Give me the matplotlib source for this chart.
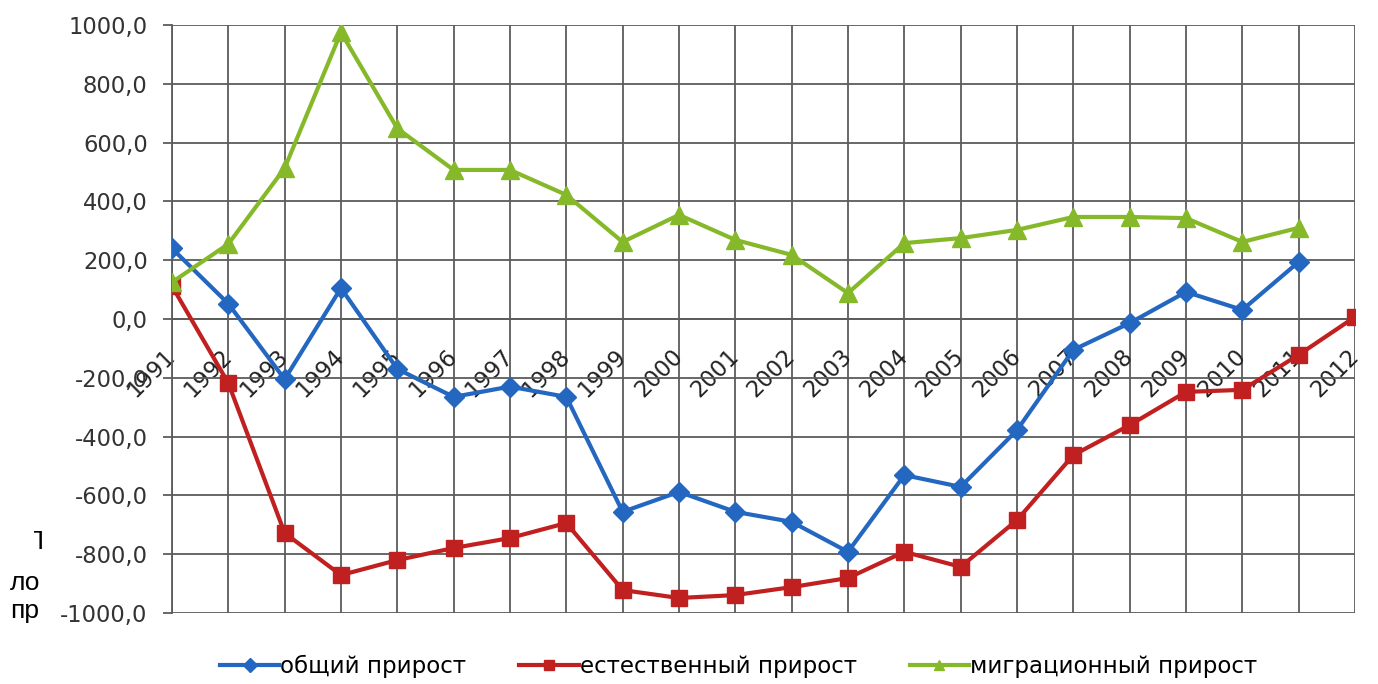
import matplotlib
matplotlib.use("Agg")
import matplotlib.pyplot as plt
from matplotlib.ticker import FuncFormatter
from matplotlib.transforms import Bbox

# data
years = [str(y) for y in range(1991, 2013)]

total = [240, 52, -205, 105, -170, -265, -230, -265, -656, -588, -656,
         -690, -792, -531, -571, -378, -105, -14, 92, 31, 194, None]
natural = [112, -218, -728, -871, -820, -779, -745, -694, -922, -949, -939,
           -912, -881, -792, -843, -684, -463, -361, -248, -241, -122, 7]
migration = [125, 255, 513, 975, 648, 507, 507, 422, 262, 354, 269,
             218, 88, 258, 275, 303, 347, 347, 343, 262, 310, None]

labels = ['общий прирост', 'естественный прирост', 'миграционный прирост']
colors = ['#2467c0', '#c0201f', '#86b92a']
grid_col = '#5c5c5c'

fig = plt.figure(figsize=(13.78, 6.84), dpi=100)
ax = fig.add_axes([0.1248, 0.1038, 0.9833 - 0.1248, 0.9635 - 0.1038])

x = list(range(len(years)))
def clean(vals):
    return [float('nan') if v is None else v for v in vals]

ax.plot(x, clean(total), color=colors[0], lw=3, marker='D', ms=10,
        label=labels[0], zorder=3)
ax.plot(x, clean(natural), color=colors[1], lw=3, marker='s', ms=12,
        label=labels[1], zorder=3)
ax.plot(x, clean(migration), color=colors[2], lw=3, marker='^', ms=13,
        label=labels[2], zorder=3)

ax.set_xlim(0, len(years) - 1)
ax.set_ylim(-1000, 1000)

ax.grid(True, color=grid_col, lw=1.3, zorder=0)
for s in ['top', 'right']:
    ax.spines[s].set_visible(False)
ax.spines['left'].set_color(grid_col)
ax.spines['left'].set_linewidth(1.3)
# category axis crosses at 0 (this resets the ticks, so set labels afterwards)
ax.spines['bottom'].set_position(('data', 0))
ax.spines['bottom'].set_color(grid_col)
ax.spines['bottom'].set_linewidth(1.3)

ax.set_yticks(range(-1000, 1001, 200))
ax.yaxis.set_major_formatter(FuncFormatter(lambda v, p: f'{v:.1f}'.replace('.', ',')))
ax.set_xticks(x)
ax.set_xticklabels(years)
plt.setp(ax.get_xticklabels(), rotation=45, ha='right', va='center',
         rotation_mode='anchor')

ax.tick_params(axis='x', length=0, pad=24, labelsize=16.3, labelcolor='#222222')
ax.tick_params(axis='y', length=6.5, width=1.3, color=grid_col, pad=11,
               labelsize=16.3, labelcolor='#333333')

leg = fig.legend(loc='center', bbox_to_anchor=(0.536, 0.026), ncol=3,
                 frameon=False, fontsize=16.5, handlelength=2.6,
                 columnspacing=2.3, handletextpad=0.05)
for h in leg.legend_handles:
    h.set_markersize(7)

# clipped fragments of surrounding page text
t = fig.text(0.018, 0.198, 'П', fontsize=19, family='Liberation Sans')
t.set_clip_box(Bbox.from_extents(34, 0, 60, 684))
fig.text(0.007, 0.138, 'ло', fontsize=19, family='Liberation Sans')
fig.text(0.007, 0.096, 'пр', fontsize=19, family='Liberation Sans')

fig.savefig('out.png', dpi=100)
